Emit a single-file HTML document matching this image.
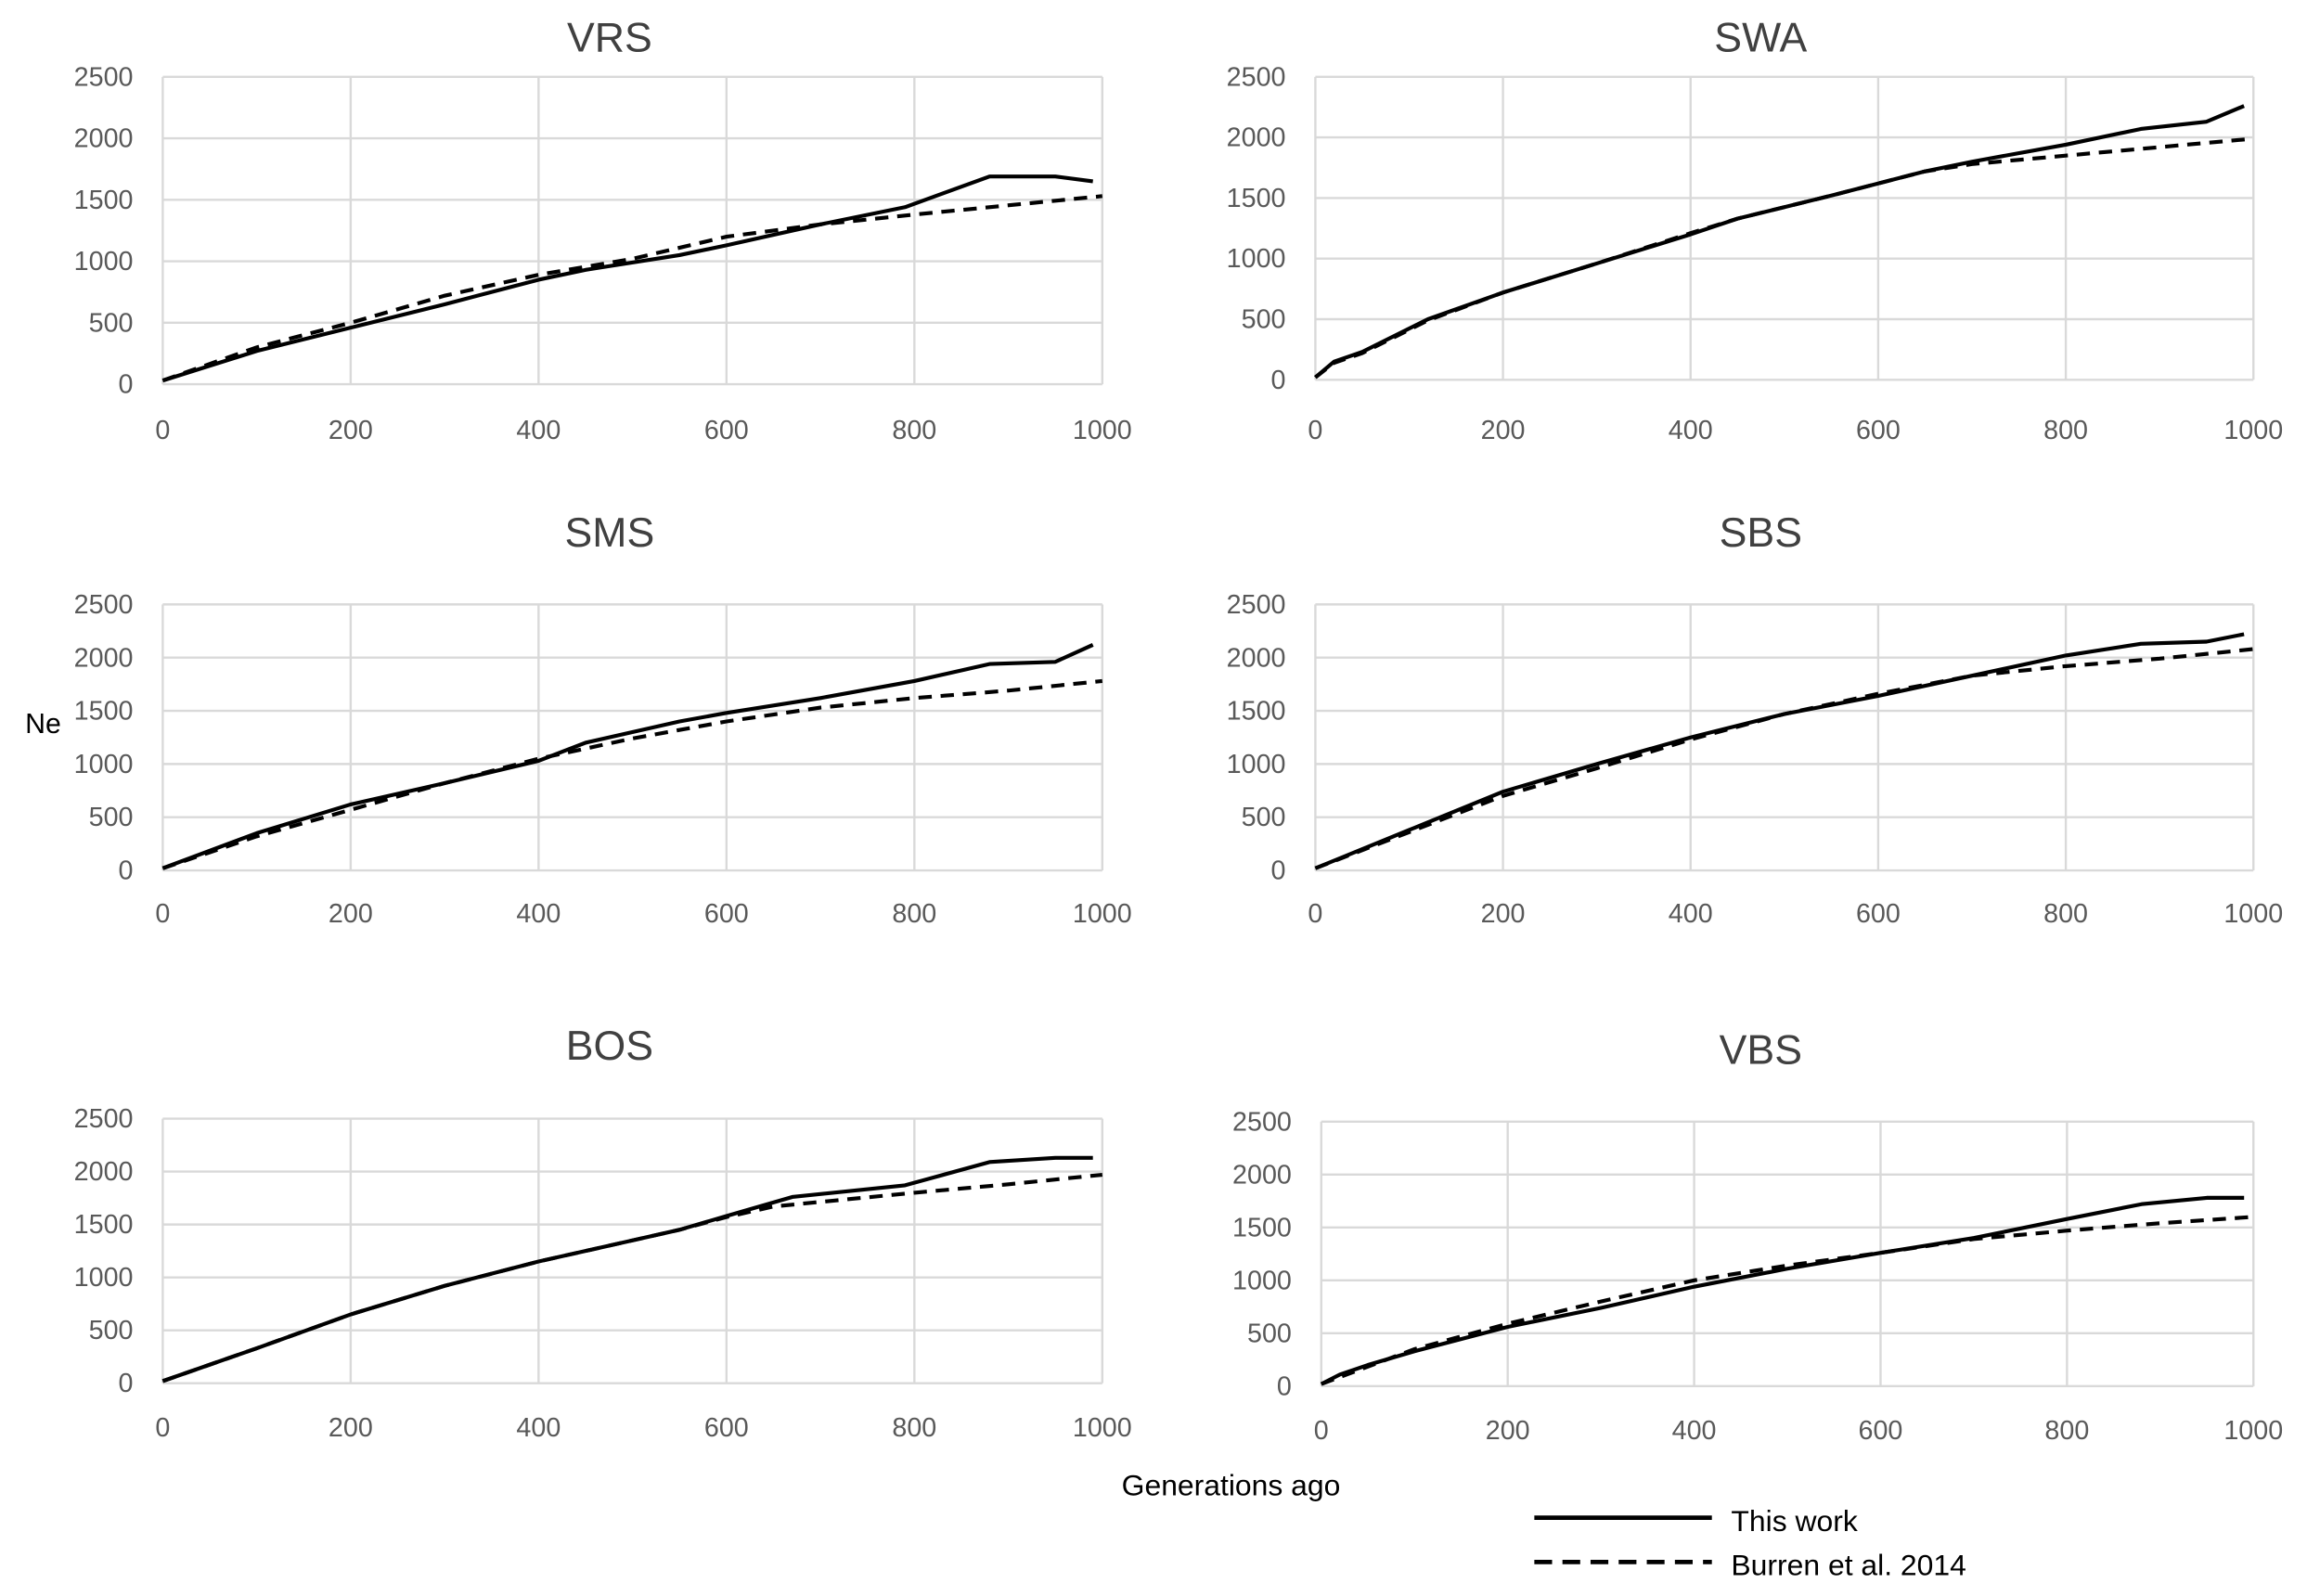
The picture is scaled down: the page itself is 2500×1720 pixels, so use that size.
<!DOCTYPE html>
<html><head><meta charset="utf-8"><style>
html,body{margin:0;padding:0;background:#fff;}
svg{display:block;}
text{font-family:"Liberation Sans",sans-serif;}
</style></head><body>
<svg id="chart" width="2500" height="1720" viewBox="0 0 1568 1080" preserveAspectRatio="none" xmlns="http://www.w3.org/2000/svg">
<text x="17" y="496" font-size="19" fill="#000">Ne</text>
<text x="832" y="1012" font-size="20" fill="#000" text-anchor="middle">Generations ago</text>
<g>
<line x1="1037" y1="1027" x2="1157" y2="1027" stroke="#000" stroke-width="3"/>
<text x="1170" y="1036" font-size="20">This work</text>
<line x1="1037" y1="1057" x2="1157" y2="1057" stroke="#000" stroke-width="3" stroke-dasharray="12 7"/>
<text x="1170" y="1066" font-size="20">Burren et al. 2014</text>
</g>
</svg>
<script>
const panelNames = ["VRS","SWA","SMS","SBS","BOS","VBS"];
const xTicks = [0,200,400,600,800,1000];
const yTicks = [0,500,1000,1500,2000,2500];
const vrsX = [0,100,200,300,400,450,550,600,700,790,880,950,990];
const vrsSolid = [30,270,460,650,850,930,1050,1130,1300,1440,1690,1690,1650];
const vrsDX = [0,100,200,300,400,500,600,700,800,1000];
const vrsDashed = [30,300,500,720,890,1020,1200,1300,1380,1530];
const swaX = [0,20,50,120,200,300,400,450,550,650,700,800,880,950,990];
const swaSolid = [20,150,230,500,720,960,1200,1330,1520,1720,1800,1940,2070,2130,2260];
const swaDX = [0,20,50,120,200,300,400,450,550,650,700,800,900,1000];
const swaDashed = [20,140,220,490,720,960,1210,1330,1520,1720,1780,1850,1920,1990];
const smsX = [0,100,200,300,400,450,550,600,700,800,880,950,990];
const smsSolid = [20,350,620,820,1030,1200,1400,1480,1620,1780,1940,1960,2120];
const smsDX = [0,100,200,300,400,500,600,700,800,900,1000];
const smsDashed = [20,320,570,820,1050,1240,1400,1530,1620,1690,1780];
const sbsX = [0,100,200,300,400,500,600,700,800,880,950,990];
const sbsSolid = [20,380,740,1000,1250,1470,1640,1830,2020,2130,2150,2220];
const sbsDX = [0,100,200,300,400,500,600,700,800,900,1000];
const sbsDashed = [20,360,700,960,1230,1470,1660,1830,1920,1990,2080];
const bosX = [0,100,200,300,400,500,550,600,670,790,880,950,990];
const bosSolid = [20,330,650,920,1150,1350,1450,1580,1760,1870,2090,2130,2130];
const bosDX = [0,100,200,300,400,500,550,600,650,800,900,1000];
const bosDashed = [20,330,650,920,1150,1350,1450,1570,1670,1800,1880,1970];
const vbsX = [0,20,50,100,200,300,400,500,600,700,800,880,950,990];
const vbsSolid = [20,110,200,330,560,740,940,1110,1260,1400,1580,1720,1780,1780];
const vbsDX = [0,100,200,300,400,500,600,700,800,900,1000];
const vbsDashed = [20,350,590,800,1000,1140,1260,1390,1470,1540,1600];

const series = [
 [vrsX,vrsSolid,vrsDX,vrsDashed],[swaX,swaSolid,swaDX,swaDashed],
 [smsX,smsSolid,smsDX,smsDashed],[sbsX,sbsSolid,sbsDX,sbsDashed],
 [bosX,bosSolid,bosDX,bosDashed],[vbsX,vbsSolid,vbsDX,vbsDashed]];
const layout = [
 {l:110,r:745,t:52,b:260,title:25,tx:412,xl:290},
 {l:889,r:1523,t:52,b:257,title:25,tx:1190,xl:290},
 {l:110,r:745,t:409,b:589,title:360,tx:412,xl:617},
 {l:889,r:1523,t:409,b:589,title:360,tx:1190,xl:617},
 {l:110,r:745,t:757,b:936,title:707,tx:412,xl:965},
 {l:893,r:1523,t:759,b:938,title:710,tx:1190,xl:967}];
const NS="http://www.w3.org/2000/svg";
const svg=document.getElementById('chart');
function mk(tag,attrs,parent){const e=document.createElementNS(NS,tag);for(const k in attrs)e.setAttribute(k,attrs[k]);parent.appendChild(e);return e;}
layout.forEach((L,i)=>{
 const nm=panelNames[i].toLowerCase();
 const g=mk('g',{},svg);
 
 
 const xs=v=>L.l+(v/1000)*(L.r-L.l);
 const ys=v=>L.b-(v/2500)*(L.b-L.t);
 const t=mk('text',{x:L.tx,y:L.title+10,'font-size':28,fill:'#404040','text-anchor':'middle'},g);
 t.textContent=panelNames[i];
 
 
 yTicks.forEach(v=>{
  const ln=mk('line',{x1:L.l,x2:L.r,y1:ys(v),y2:ys(v),stroke:'#d9d9d9','stroke-width':1.5},g);
  
  
  const tx=mk('text',{x:L.l-20,y:ys(v)+6,'font-size':18,fill:'#595959','text-anchor':'end'},g);
  tx.textContent=v;
  
  
 });
 xTicks.forEach(v=>{
  const ln=mk('line',{x1:xs(v),x2:xs(v),y1:L.t,y2:L.b,stroke:'#d9d9d9','stroke-width':1.5},g);
  
  
  const tx=mk('text',{x:xs(v),y:L.xl+7,'font-size':18,fill:'#595959','text-anchor':'middle'},g);
  tx.textContent=v;
  
  
 });
 const s=series[i];
 const p1=mk('polyline',{points:s[0].map((x,k)=>xs(x)+','+ys(s[1][k])).join(' '),fill:'none',stroke:'#000','stroke-width':2.6,'stroke-linejoin':'round'},g);
 
 
 const p2=mk('polyline',{points:s[2].map((x,k)=>xs(x)+','+ys(s[3][k])).join(' '),fill:'none',stroke:'#000','stroke-width':2.6,'stroke-dasharray':'9 6'},g);
 
 
});
</script>
</body></html>
